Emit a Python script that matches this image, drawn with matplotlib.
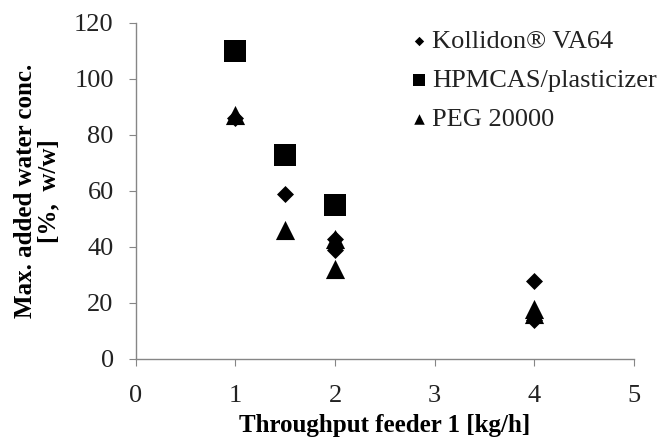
import matplotlib
matplotlib.use("Agg")
import matplotlib.pyplot as plt

plt.rcParams['font.family'] = ['Liberation Serif', 'DejaVu Serif']

kollidon_x = [1, 1.5, 2, 2, 4, 4]
kollidon_y = [86, 59, 43, 39, 28, 14]
hpmcas_x = [1, 1.5, 2]
hpmcas_y = [110, 73, 55]
peg_x = [1, 1.5, 2, 2, 4, 4]
peg_y = [87, 46, 43, 32, 18, 16]

series_labels = ["Kollidon® VA64", "HPMCAS/plasticizer", "PEG 20000"]
x_ticks = [0, 1, 2, 3, 4, 5]
y_ticks = [0, 20, 40, 60, 80, 100, 120]

fig = plt.figure(figsize=(6.6, 4.41), dpi=100)
ax = fig.add_axes([0.206, 0.186, 0.754, 0.762])

h1 = ax.scatter(kollidon_x, kollidon_y, marker='D', s=75, color='black', linewidths=0, zorder=3)
h2 = ax.scatter(hpmcas_x, hpmcas_y, marker='s', s=230, color='black', linewidths=0, zorder=3)
h3 = ax.scatter(peg_x, peg_y, marker='^', s=190, color='black', linewidths=0, zorder=4)

ax.set_xlim(0, 5)
ax.set_ylim(0, 120)
ax.set_xticks(x_ticks)
ax.set_yticks(y_ticks)
for s in ['top', 'right']:
    ax.spines[s].set_visible(False)
for s in ['left', 'bottom']:
    ax.spines[s].set_color('#868686')
    ax.spines[s].set_linewidth(1.0)
ax.tick_params(axis='both', direction='out', length=5, color='#868686', labelsize=19, labelcolor='#222222')
ax.tick_params(axis='y', pad=11)
ax.tick_params(axis='x', pad=14)

ax.set_xlabel("Throughput feeder 1 [kg/h]", fontsize=18, fontweight='bold', labelpad=5)
ax.set_ylabel("Max. added water conc.\n[%,  w/w]", fontsize=18, fontweight='bold', labelpad=10, linespacing=1.0)

leg = ax.legend([h1, h2, h3], series_labels, loc='upper right', bbox_to_anchor=(1.095, 1.05),
                frameon=False, fontsize=19, handletextpad=0.0, handlelength=1.0,
                labelspacing=0.58, markerscale=0.55)
for t in leg.get_texts():
    t.set_color('#222222')

fig.savefig("out.png", dpi=100)
